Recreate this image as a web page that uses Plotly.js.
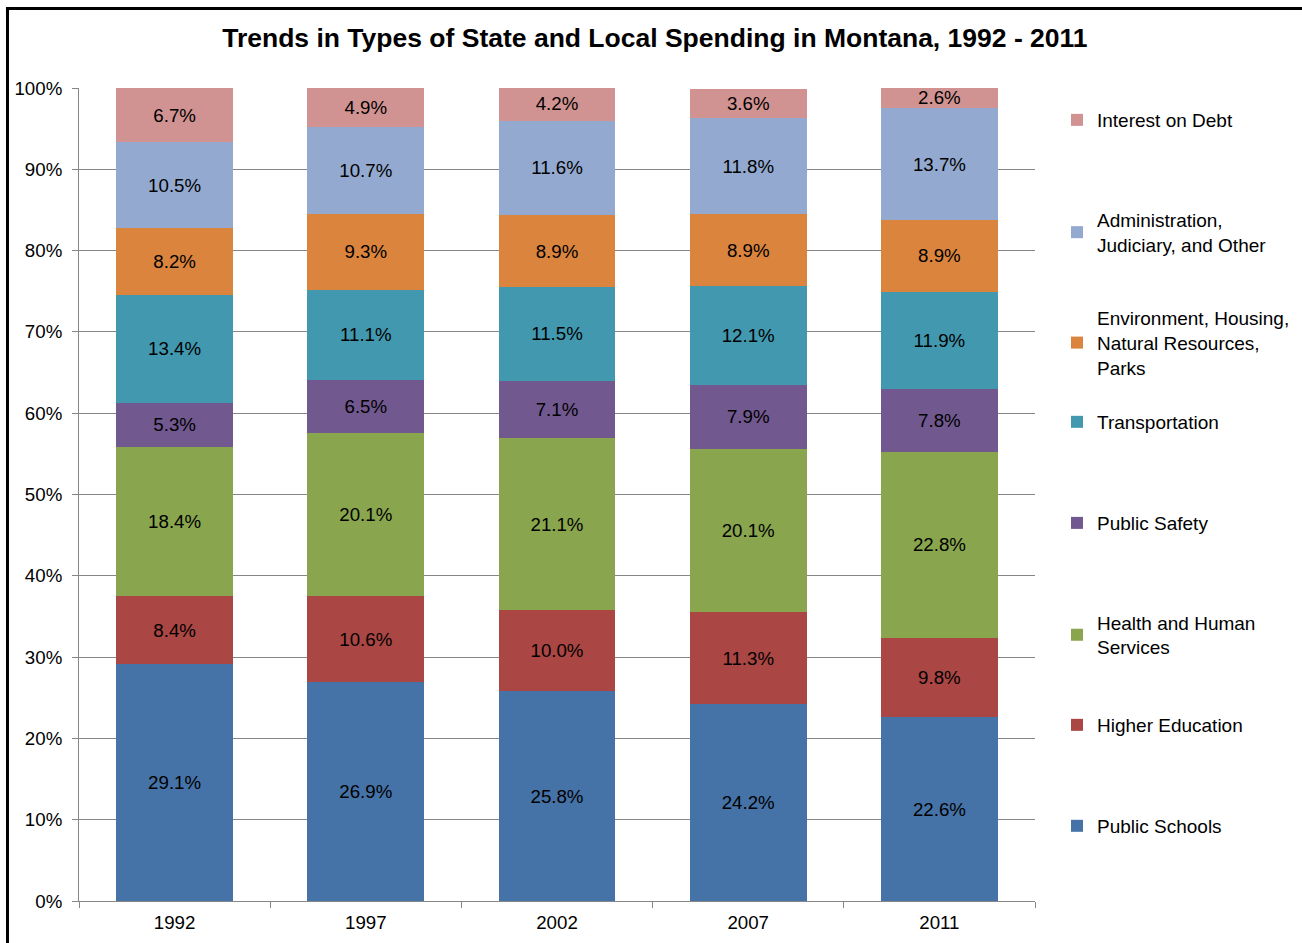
<!DOCTYPE html>
<html>
<head>
<meta charset="utf-8">
<script src="https://cdn.plot.ly/plotly-3.0.1.min.js"></script>
<style>html,body{margin:0;padding:0;background:#fff;}#chart{width:1302px;height:943px;}</style>
</head>
<body>
<div id="chart"></div>
<script>
const years = ["1992", "1997", "2002", "2007", "2011"];
const publicSchools = [29.1, 26.9, 25.8, 24.2, 22.6];
const higherEducation = [8.4, 10.6, 10.0, 11.3, 9.8];
const healthHumanServices = [18.4, 20.1, 21.1, 20.1, 22.8];
const publicSafety = [5.3, 6.5, 7.1, 7.9, 7.8];
const transportation = [13.4, 11.1, 11.5, 12.1, 11.9];
const environment = [8.2, 9.3, 8.9, 8.9, 8.9];
const administration = [10.5, 10.7, 11.6, 11.8, 13.7];
const interestOnDebt = [6.7, 4.9, 4.2, 3.6, 2.6];

const seriesNames = [
  "Public Schools",
  "Higher Education",
  "Health and Human<br>Services",
  "Public Safety",
  "Transportation",
  "Environment, Housing,<br>Natural Resources,<br>Parks",
  "Administration,<br>Judiciary, and Other",
  "Interest on Debt"
];
const seriesValues = [publicSchools, higherEducation, healthHumanServices, publicSafety,
  transportation, environment, administration, interestOnDebt];
const seriesColors = ["#4572A7", "#AA4643", "#89A54E", "#71588F", "#4198AF", "#DB843D", "#93A9CF", "#D19392"];
const legendY = [0.0923, 0.2165, 0.3272, 0.4649, 0.5892, 0.6863, 0.8223, 0.9606];

const FONT = "Liberation Sans, Arial, sans-serif";
const traces = seriesNames.map((name, i) => ({
  type: "bar",
  name: name,
  x: years,
  y: seriesValues[i],
  marker: {color: seriesColors[i], line: {width: 0}},
  texttemplate: "%{y:.1f}%",
  textposition: "inside",
  insidetextanchor: "middle",
  textangle: 0,
  constraintext: "none",
  textfont: {family: FONT, size: 18.7, color: "#000"},
  hoverinfo: "skip",
  legend: i === 0 ? "legend" : "legend" + (i + 1)
}));

const layout = {
  width: 1302,
  height: 943,
  margin: {l: 79, r: 267, t: 88, b: 42, autoexpand: false},
  paper_bgcolor: "#fff",
  plot_bgcolor: "#fff",
  barmode: "stack",
  bargap: 0.39,
  font: {family: FONT, size: 18.7, color: "#000"},
  title: {
    text: "<b>Trends in Types of State and Local Spending in Montana, 1992 - 2011</b>",
    font: {family: FONT, size: 26.5, color: "#000"},
    x: 0.503, xref: "container", xanchor: "center",
    y: 0.96, yref: "container", yanchor: "middle"
  },
  xaxis: {
    type: "category",
    showline: true, linecolor: "#868686", linewidth: 1,
    ticks: "outside", tickson: "boundaries", ticklen: 6, tickcolor: "#868686",
    ticklabelstandoff: 5,
    tickfont: {family: FONT, size: 18.7, color: "#000"},
    showgrid: false, zeroline: false, fixedrange: true
  },
  yaxis: {
    range: [0, 100], dtick: 10, ticksuffix: "%",
    showline: true, linecolor: "#868686", linewidth: 1,
    ticks: "outside", ticklen: 6, tickcolor: "#868686",
    ticklabelstandoff: 6,
    showgrid: true, gridcolor: "#868686", gridwidth: 1,
    zeroline: false,
    tickfont: {family: FONT, size: 18.7, color: "#000"},
    fixedrange: true
  },
  shapes: [
    {type: "line", xref: "paper", yref: "paper", x0: -0.0748, x1: -0.0748, y0: -0.1, y1: 1.0978,
      line: {color: "#000", width: 3}},
    {type: "line", xref: "paper", yref: "paper", x0: -0.0764, x1: 1.3, y0: 1.0978, y1: 1.0978,
      line: {color: "#000", width: 3}}
  ],
  showlegend: true
};

legendY.forEach((yy, i) => {
  const key = i === 0 ? "legend" : "legend" + (i + 1);
  layout[key] = {
    x: 1.023, xanchor: "left", y: yy, yanchor: "middle",
    xref: "paper", yref: "paper",
    bgcolor: "rgba(0,0,0,0)", borderwidth: 0,
    font: {family: FONT, size: 19, color: "#000"},
    itemclick: false, itemdoubleclick: false
  };
});

Plotly.newPlot("chart", traces, layout, {displayModeBar: false, staticPlot: true});
</script>
</body>
</html>
